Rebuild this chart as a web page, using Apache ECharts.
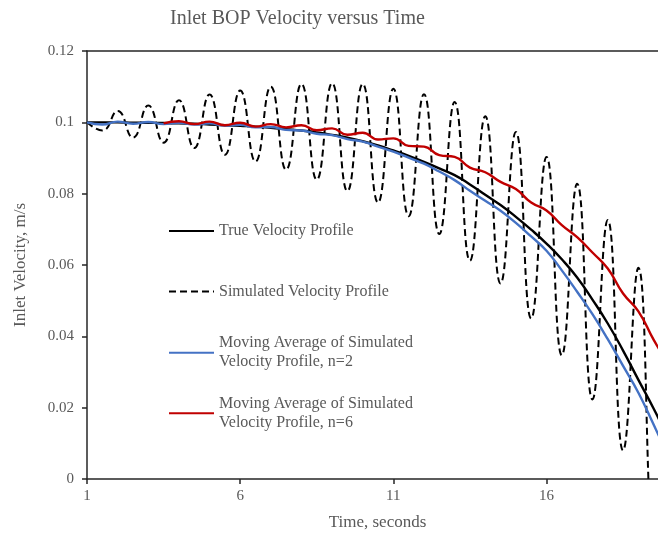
<!DOCTYPE html>
<html>
<head>
<meta charset="utf-8">
<script src="https://cdn.jsdelivr.net/npm/echarts@6/dist/echarts.min.js"></script>
<style>
html,body{margin:0;padding:0;background:#fff;}
#chart{width:658px;height:536px;}
</style>
</head>
<body>
<div id="chart"></div>
<script>
// ---- data ----
const timeSeconds = [1, 1.5, 2, 2.5, 3, 3.5, 4, 4.5, 5, 5.5, 6, 6.5, 7, 7.5, 8, 8.5, 9, 9.5, 10, 10.5,
  11, 11.5, 12, 12.5, 13, 13.5, 14, 14.5, 15, 15.5, 16, 16.5, 17, 17.5, 18, 18.5, 19, 19.5, 20];

const trueVelocity = [0.1000, 0.1000, 0.1000, 0.0999, 0.0999, 0.0998, 0.0997, 0.0996, 0.0994, 0.0992,
  0.0990, 0.0988, 0.0985, 0.0981, 0.0977, 0.0972, 0.0965, 0.0957, 0.0947, 0.0935,
  0.0921, 0.0906, 0.0889, 0.0871, 0.0852, 0.0826, 0.0797, 0.0768, 0.0735, 0.0699,
  0.0660, 0.0616, 0.0565, 0.0503, 0.0436, 0.0360, 0.0278, 0.0197, 0.0110];

const simulatedVelocity = [0.1000, 0.0977, 0.1032, 0.0957, 0.1047, 0.0943, 0.1062, 0.0928, 0.1078, 0.0909,
  0.1089, 0.0890, 0.1100, 0.0867, 0.1108, 0.0839, 0.1110, 0.0807, 0.1108, 0.0775,
  0.1094, 0.0737, 0.1079, 0.0687, 0.1057, 0.0612, 0.1017, 0.0548, 0.0973, 0.0450,
  0.0903, 0.0347, 0.0828, 0.0223, 0.0726, 0.0080, 0.0592, -0.0160, 0.0440];

const movingAverage2 = [0.1000, 0.0994, 0.1002, 0.0996, 0.1001, 0.0995, 0.0999, 0.0994, 0.0997, 0.0991,
  0.0993, 0.0986, 0.0987, 0.0979, 0.0977, 0.0968, 0.0964, 0.0953, 0.0946, 0.0932,
  0.0918, 0.0901, 0.0884, 0.0862, 0.0838, 0.0808, 0.0780, 0.0752, 0.0718, 0.0680,
  0.0640, 0.0585, 0.0525, 0.0462, 0.0392, 0.0317, 0.0242, 0.0152, 0.0060];

const movingAverage6 = [null, null, null, null, null, 0.0997, 0.1003, 0.0995, 0.1002, 0.0992,
  0.0999, 0.0988, 0.0995, 0.0986, 0.0992, 0.0978, 0.0983, 0.0965, 0.0971, 0.0952,
  0.0955, 0.0934, 0.0932, 0.0908, 0.0903, 0.0873, 0.0860, 0.0833, 0.0813, 0.0775,
  0.0753, 0.0712, 0.0678, 0.0635, 0.0590, 0.0520, 0.0470, 0.0390, 0.0320];

const seriesNames = [
  'True Velocity Profile',
  'Simulated Velocity Profile',
  'Moving Average of Simulated\nVelocity Profile, n=2',
  'Moving Average of Simulated\nVelocity Profile, n=6'
];
const xTickValues = [1, 6, 11, 16];
const yTickValues = [0, 0.02, 0.04, 0.06, 0.08, 0.1, 0.12];

// ---- build ----
function pairs(vals) { return timeSeconds.map((t, i) => [t, vals[i]]); }

const FONT = "'Liberation Serif', 'DejaVu Serif', serif";
const TXT = '#595959';
const AX = '#262626';
const X_MIN = 1, X_MAX = 19.64;

const chart = echarts.init(document.getElementById('chart'), null, {renderer: 'canvas'});

const legendBase = {
  orient: 'vertical', left: 168, padding: 0, itemWidth: 45, itemHeight: 14, itemGap: 0,
  selectedMode: false,
  itemStyle: {opacity: 0, borderWidth: 0},
  textStyle: {fontFamily: FONT, fontSize: 16, color: TXT, lineHeight: 19}
};

chart.setOption({
  animation: false,
  backgroundColor: '#ffffff',
  title: {
    text: 'Inlet BOP Velocity versus Time',
    left: 170, top: 9, padding: 0,
    textStyle: {fontFamily: FONT, fontSize: 20, fontWeight: 'normal', color: TXT}
  },
  legend: [
    Object.assign({}, legendBase, {top: 221.5, data: [seriesNames[0]]}),
    Object.assign({}, legendBase, {top: 282, data: [seriesNames[1]]}),
    Object.assign({}, legendBase, {top: 324.2, data: [{name: seriesNames[2], textStyle: {padding: [19, 0, 0, 0]}}]}),
    Object.assign({}, legendBase, {top: 384.8, data: [{name: seriesNames[3], textStyle: {padding: [19, 0, 0, 0]}}]})
  ],
  grid: {left: 87, right: 0, top: 51, bottom: 54, containLabel: false},
  xAxis: [{
    type: 'value', min: X_MIN, max: X_MAX, position: 'bottom',
    name: 'Time, seconds', nameLocation: 'middle', nameGap: 35,
    nameTextStyle: {fontFamily: FONT, fontSize: 17, color: TXT, padding: [0, 0, 0, 10]},
    axisLine: {show: true, onZero: false, lineStyle: {color: AX, width: 1.5}},
    axisTick: {show: true, inside: false, length: 5, customValues: xTickValues, lineStyle: {color: AX, width: 1.5}},
    axisLabel: {customValues: xTickValues, margin: 10, fontFamily: FONT, fontSize: 15, color: TXT},
    splitLine: {show: false}
  }, {
    type: 'value', min: X_MIN, max: X_MAX, position: 'top',
    axisLine: {show: true, onZero: false, lineStyle: {color: AX, width: 1.5}},
    axisTick: {show: false}, axisLabel: {show: false}, splitLine: {show: false}
  }],
  yAxis: {
    type: 'value', min: 0, max: 0.12, interval: 0.02,
    name: 'Inlet Velocity, m/s', nameLocation: 'middle', nameGap: 58,
    nameTextStyle: {fontFamily: FONT, fontSize: 17, color: TXT},
    axisLine: {show: true, lineStyle: {color: AX, width: 1.5}},
    axisTick: {show: true, length: 5, lineStyle: {color: AX, width: 1.5}},
    axisLabel: {margin: 13, fontFamily: FONT, fontSize: 15, color: TXT,
      formatter: v => String(yTickValues.find(t => Math.abs(t - v) < 1e-9) ?? v)},
    splitLine: {show: false}
  },
  series: [
    {name: seriesNames[0], type: 'line', data: pairs(trueVelocity), smooth: 0.5, symbol: 'none',
     lineStyle: {color: '#000000', width: 2.4}, itemStyle: {color: '#000000'}, z: 2},
    {name: seriesNames[1], type: 'line', data: pairs(simulatedVelocity), smooth: 0.5, symbol: 'none',
     lineStyle: {color: '#000000', width: 2, type: [7, 4]}, itemStyle: {color: '#000000'}, z: 3},
    {name: seriesNames[2], type: 'line', data: pairs(movingAverage2), smooth: 0.5, symbol: 'none',
     lineStyle: {color: '#4472C4', width: 2.4}, itemStyle: {color: '#4472C4'}, z: 4},
    {name: seriesNames[3], type: 'line', data: pairs(movingAverage6), smooth: 0.5, symbol: 'none',
     lineStyle: {color: '#C00000', width: 2.4}, itemStyle: {color: '#C00000'}, z: 5}
  ]
});
</script>
</body>
</html>
